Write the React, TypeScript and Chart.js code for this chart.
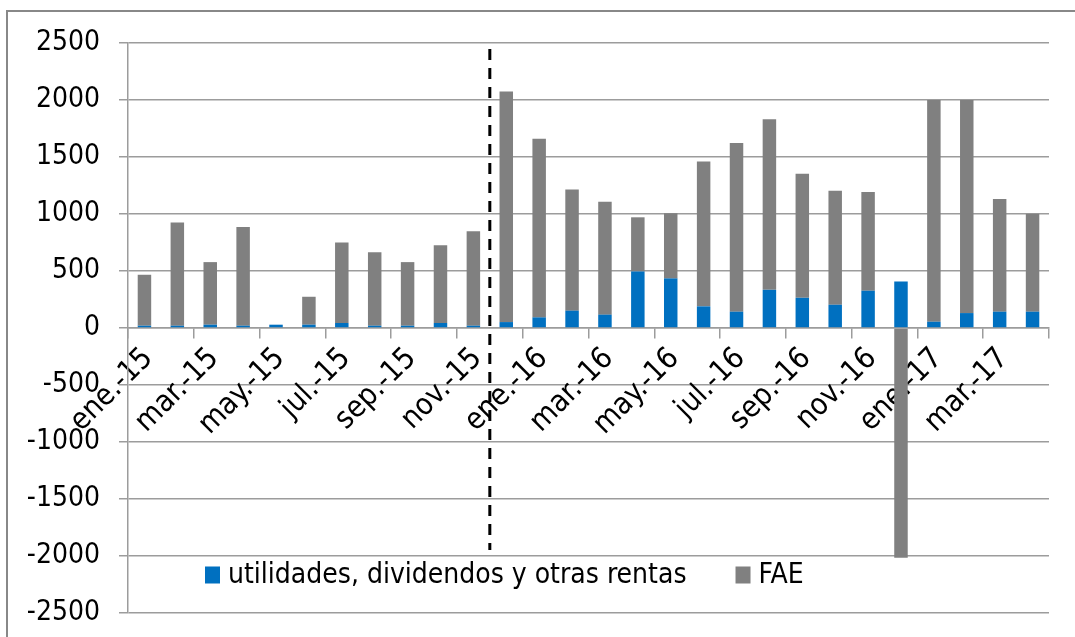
import React, { useEffect, useRef } from 'react';
import { Chart, registerables } from 'chart.js';

Chart.register(...registerables);

const categories = [
  'ene.-15', 'feb.-15', 'mar.-15', 'abr.-15', 'may.-15', 'jun.-15', 'jul.-15', 'ago.-15', 'sep.-15', 'oct.-15', 'nov.-15', 'dic.-15',
  'ene.-16', 'feb.-16', 'mar.-16', 'abr.-16', 'may.-16', 'jun.-16', 'jul.-16', 'ago.-16', 'sep.-16', 'oct.-16', 'nov.-16', 'dic.-16',
  'ene.-17', 'feb.-17', 'mar.-17', 'abr.-17',
];

const utilidades = [20, 20, 29, 20, 29, 29, 44, 20, 20, 44, 20, 52, 93, 152, 117, 496, 435, 190, 143, 335, 265, 204, 327, 408, 55, 131, 143, 143];
const fae = [447, 905, 549, 867, 0, 245, 706, 645, 558, 682, 829, 2022, 1567, 1064, 991, 475, 571, 1271, 1479, 1497, 1089, 1001, 866, -2015, 1945, 1869, 989, 860];

const seriesLabels = ['utilidades, dividendos y otras rentas', 'FAE'];
const seriesColors = ['#0070C0', '#808080'];

const yMin = -2500;
const yMax = 2500;
const yStep = 500;
const dividerAfterIndex = 10; // dashed separator between nov.-15 and dic.-15

const FONT = "'DejaVu Sans Condensed', 'DejaVu Sans', sans-serif";
const FONT_SIZE = 28;
const X_FONT_SIZE = 30;
const GRID = '#9c9c9c';

const dividerPlugin = {
  id: 'divider',
  afterDatasetsDraw(chart: any) {
    const x = chart.scales.x;
    const y = chart.scales.y;
    const px = (x.getPixelForValue(dividerAfterIndex) + x.getPixelForValue(dividerAfterIndex + 1)) / 2;
    const ctx = chart.ctx;
    ctx.save();
    ctx.strokeStyle = '#000';
    ctx.lineWidth = 3;
    ctx.setLineDash([11, 8]);
    ctx.beginPath();
    ctx.moveTo(px, y.getPixelForValue(yMax) + 6);
    ctx.lineTo(px, y.getPixelForValue(-2000) - 6);
    ctx.stroke();
    ctx.restore();
  },
};

const legendPlugin = {
  id: 'innerLegend',
  afterDraw(chart: any) {
    const ctx = chart.ctx;
    const area = chart.chartArea;
    const cy = area.bottom - 38;
    let x = 205;
    ctx.save();
    ctx.font = `${FONT_SIZE}px ${FONT}`;
    ctx.textBaseline = 'middle';
    ctx.textAlign = 'left';
    chart.data.datasets.forEach((ds: any) => {
      ctx.fillStyle = ds.backgroundColor;
      ctx.fillRect(x, cy - 8.5, 15, 17);
      ctx.fillStyle = '#000';
      ctx.fillText(ds.label, x + 23, cy + 1);
      x += 23 + ctx.measureText(ds.label).width + 49;
    });
    ctx.restore();
  },
};

export default function App() {
  const ref = useRef<HTMLCanvasElement | null>(null);

  useEffect(() => {
    if (!ref.current) return;
    const chart = new Chart(ref.current, {
      type: 'bar',
      data: {
        labels: categories,
        datasets: [
          { label: seriesLabels[0], data: utilidades, backgroundColor: seriesColors[0], categoryPercentage: 1, barPercentage: 0.41 },
          { label: seriesLabels[1], data: fae, backgroundColor: seriesColors[1], categoryPercentage: 1, barPercentage: 0.41 },
        ],
      },
      options: {
        animation: false,
        responsive: false,
        devicePixelRatio: 1,
        layout: { padding: { top: 43, right: 26, bottom: 24, left: 0 } },
        plugins: { legend: { display: false }, tooltip: { enabled: false } },
        scales: {
          x: {
            stacked: true,
            position: { y: 0 } as any,
            grid: {
              display: true,
              drawOnChartArea: false,
              drawTicks: true,
              tickLength: 10,
              lineWidth: 1.5,
              color: (c: any) => (c.index === undefined || c.index % 2 === 0 ? GRID : 'rgba(0,0,0,0)'),
            },
            border: { display: true, color: GRID, width: 1.5 },
            ticks: {
              autoSkip: false,
              maxRotation: 45,
              minRotation: 45,
              padding: 3,
              labelOffset: 4,
              color: '#000',
              font: { family: FONT, size: X_FONT_SIZE },
              callback: (_v: any, i: number) => (i % 2 === 0 ? categories[i] : ''),
            },
          },
          y: {
            stacked: true,
            min: yMin,
            max: yMax,
            afterFit: (s: any) => {
              s.width = 128;
              s.paddingTop = 0;
              s.paddingBottom = 0;
            },
            grid: { color: GRID, lineWidth: 1.5, drawTicks: true, tickLength: 9 },
            border: { display: true, color: GRID, width: 1.5 },
            ticks: {
              stepSize: yStep,
              padding: 19,
              color: '#000',
              font: { family: FONT, size: FONT_SIZE },
              callback: (v: any) => String(v),
            },
          },
        },
      },
      plugins: [dividerPlugin, legendPlugin],
    });
    return () => chart.destroy();
  }, []);

  return (
    <div style={{ position: 'absolute', left: 0, top: 0, width: 1075, height: 637, overflow: 'hidden', background: '#fff' }}>
      <div style={{ position: 'absolute', left: 6, top: 10, width: 1200, height: 800, border: '2.5px solid #888' }} />
      <canvas ref={ref} width={1075} height={637} style={{ position: 'absolute', left: 0, top: 0 }} />
    </div>
  );
}
